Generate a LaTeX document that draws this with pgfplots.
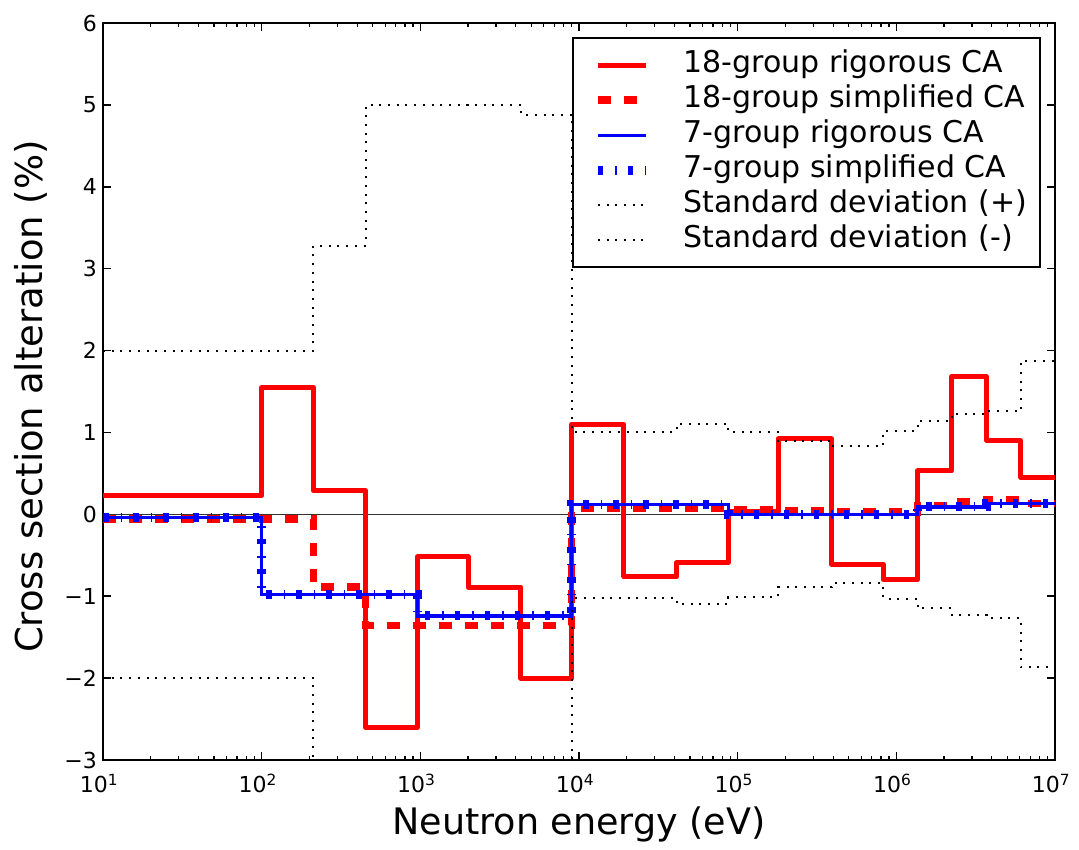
\documentclass[border=0pt]{standalone}
\usepackage{pgfplots}
\pgfplotsset{compat=1.18}
\usepackage{fontspec}
\setmainfont{DejaVu Sans}
\begin{document}
\begin{tikzpicture}
\path[use as bounding box] (-103pt,-90pt) rectangle (976pt,760pt);
\begin{axis}[
  at={(0pt,0pt)}, anchor=south west,
  scale only axis, width=952pt, height=737pt,
  xmode=log, log basis x=10,
  xmin=10, xmax=1e7, ymin=-3, ymax=6,
  xtick={10,100,1000,10000,100000,1000000,10000000},
  xticklabels={10\textsuperscript{1},10\textsuperscript{2},10\textsuperscript{3},10\textsuperscript{4},10\textsuperscript{5},10\textsuperscript{6},10\textsuperscript{7}},
  minor xtick={20,30,40,50,60,70,80,90,200,300,400,500,600,700,800,900,2000,3000,4000,5000,6000,7000,8000,9000,20000,30000,40000,50000,60000,70000,80000,90000,200000,300000,400000,500000,600000,700000,800000,900000,2000000,3000000,4000000,5000000,6000000,7000000,8000000,9000000},
  ytick={-3,-2,-1,0,1,2,3,4,5,6},
  yticklabels={−3,−2,−1,0,1,2,3,4,5,6},
  tick align=inside,
  major tick length=8pt, minor tick length=4pt,
  major tick style={line width=1.5pt, black},
  minor tick style={line width=1.2pt, black},
  axis line style={line width=2pt},
  xticklabel style={font=\fontsize{22}{26}\selectfont, anchor=base, yshift=-33pt, xshift=-4pt},
  yticklabel style={font=\fontsize{22}{26}\selectfont, anchor=east, inner xsep=0pt, xshift=-6pt},
  xlabel={Neutron energy (eV)},
  ylabel={Cross section alteration (\%)},
  xlabel style={font=\fontsize{36.5}{44}\selectfont, at={(axis description cs:0.5,0)}, anchor=base, yshift=-75pt},
  ylabel style={font=\fontsize{37}{44}\selectfont, at={(axis description cs:0,0.5)}, anchor=base, yshift=60pt, xshift=-5pt},
  legend style={at={(axis description cs:1,1)}, anchor=north east, xshift=-15pt, yshift=-15pt,
    draw=black, line width=2pt, outer sep=0pt, inner xsep=13pt, inner ysep=13pt,
    font=\fontsize{30}{36}\selectfont, row sep=6.5pt,
    nodes={inner sep=0pt, text height=22pt, text depth=6.5pt, anchor=west}},
  legend cell align=left,
  legend image code/.code={\draw[#1] (7pt,0pt) -- (55pt,0pt); \path (0pt,0pt) (88pt,0pt);},
]
\addplot[black!80, line width=1.2pt, forget plot] coordinates {(10,0) (10000000,0)};
% 18-group rigorous
\addplot[red, line width=5pt, const plot, line join=round] coordinates {
(10,0.23) (100,1.55) (212,0.29) (452,-2.6) (960,-0.52) (2000,-0.89) (4300,-2.0) (9000,1.1) (19200,-0.76) (41300,-0.59) (87300,0.03) (180000,0.92) (391000,-0.61) (828000,-0.80) (1360000,0.53) (2230000,1.68) (3710000,0.90) (6100000,0.45) (10000000,0.45)};
\addlegendentry{18-group rigorous CA}
% 18-group simplified
\addplot[red, line width=7.5pt, const plot, dash pattern=on 13pt off 13pt] coordinates {
(10,-0.06) (100,-0.06) (212,-0.89) (452,-1.36) (960,-1.36) (2000,-1.36) (4300,-1.36) (9000,0.08) (19200,0.08) (41300,0.08) (87300,0.05) (180000,0.04) (391000,0.03) (828000,0.03) (1360000,0.11) (2230000,0.15) (3710000,0.18) (6100000,0.13) (10000000,0.13)};
\addlegendentry{18-group simplified CA}
% 7-group rigorous
\addplot[blue, line width=3.3pt, const plot] coordinates {
(10,-0.04) (100,-0.98) (960,-1.24) (9000,0.12) (87300,0.0) (1360000,0.09) (3710000,0.13) (10000000,0.13)};
\addlegendentry{7-group rigorous CA}
% 7-group simplified
\addplot[blue, line width=9pt, const plot, dash pattern=on 5.5pt off 12pt on 1.5pt off 11pt] coordinates {
(10,-0.04) (100,-0.98) (960,-1.24) (9000,0.12) (87300,0.0) (1360000,0.09) (3710000,0.13) (10000000,0.13)};
\addlegendentry{7-group simplified CA}
% std +
\addplot[black, line width=2pt, const plot, dash pattern=on 2pt off 6.7pt] coordinates {
(10,2.0) (100,2.0) (212,3.28) (452,5.0) (960,5.0) (2000,5.0) (4300,4.88) (9000,1.01) (19200,1.01) (41300,1.1) (87300,1.0) (180000,0.89) (391000,0.83) (828000,1.02) (1360000,1.14) (2230000,1.23) (3710000,1.26) (6100000,1.87) (10000000,1.87)};
\addlegendentry{Standard deviation (+)}
% std -
\addplot[black, line width=2pt, const plot, dash pattern=on 2pt off 6.7pt] coordinates {
(10,-2.0) (100,-2.0) (212,-3.28) (452,-5.0) (960,-5.0) (2000,-5.0) (4300,-4.88) (9000,-1.02) (19200,-1.02) (41300,-1.1) (87300,-1.01) (180000,-0.89) (391000,-0.84) (828000,-1.03) (1360000,-1.15) (2230000,-1.23) (3710000,-1.27) (6100000,-1.87) (10000000,-1.87)};
\addlegendentry{Standard deviation (-)}
\end{axis}
\end{tikzpicture}
\end{document}
